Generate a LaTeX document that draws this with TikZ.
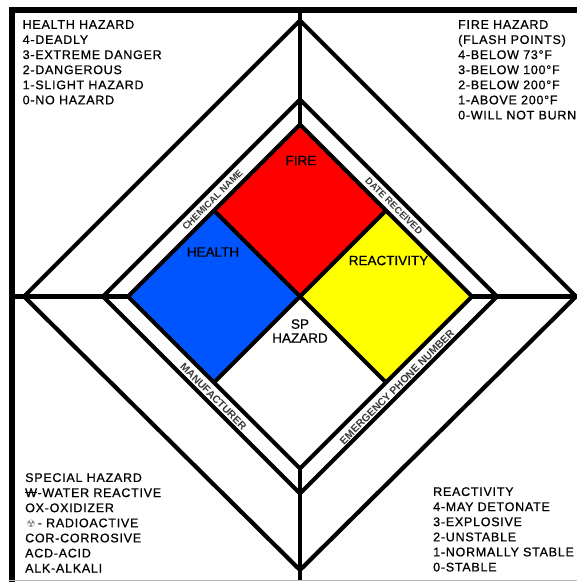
\documentclass[tikz,border=0pt]{standalone}
\usepackage{fontspec}
\setmainfont{Liberation Sans}
\newfontfamily\legendfont[LetterSpace=6, FakeBold=0.7]{Liberation Sans}
\newfontfamily\labelfont[FakeBold=0.7]{Liberation Sans}
\newfontfamily\symbolfont{DejaVu Sans}
\usetikzlibrary{positioning}

\definecolor{firered}{RGB}{255,0,0}
\definecolor{healthblue}{RGB}{0,85,255}
\definecolor{reactyellow}{RGB}{255,255,0}
\definecolor{bandgray}{RGB}{55,55,55}

\newcommand{\waterW}{\makebox[0pt][l]{\rule[0.32em]{0.95em}{0.09em}}W}

\tikzset{
    frameline/.style={line width=6pt, line join=miter},
    rimline/.style={line width=4.2pt, line join=miter},
    legend/.style={
        inner sep=0pt,
        anchor=north west,
        align=left,
        font=\legendfont\fontsize{12.5}{15.1}\selectfont
    },
    quadlabel/.style={inner sep=0pt, align=center, font=\labelfont\fontsize{13.5}{14}\selectfont},
    bandlabel/.style={inner sep=0pt, text=bandgray, font=\bfseries\fontsize{9.5}{10}\selectfont},
    bigbandlabel/.style={bandlabel, font=\bfseries\fontsize{10.5}{11}\selectfont}
}

\begin{document}
\begin{tikzpicture}[x=1pt, y=-1pt]
\useasboundingbox (0,0) rectangle (577,582);

% frame
\coordinate (frameBL) at (11.7,582);
\coordinate (frameTL) at (11.7,10.3);
\coordinate (frameTR) at (577,10.3);
\draw[frameline] (frameBL) -- (frameTL) -- (frameTR);
\draw[gray!55, line width=1pt] (8.7,580.5) -- (577,580.5);

% outer and middle diamonds
\coordinate (oT) at (300,20.5);  \coordinate (oR) at (576,296.5);
\coordinate (oB) at (300,570); \coordinate (oL) at (24,296.5);
\coordinate (mT) at (300,99.5);  \coordinate (mR) at (497,296.5);
\coordinate (mB) at (300,493.5); \coordinate (mL) at (103,296.5);
\draw[rimline] (oT) -- (oR) -- (oB) -- (oL) -- cycle;
\draw[rimline] (mT) -- (mR) -- (mB) -- (mL) -- cycle;

% coloured diamond
\coordinate (c)  at (300,296.5);
\coordinate (cT) at (300,124.5); \coordinate (cR) at (472,296.5);
\coordinate (cB) at (300,468.5); \coordinate (cL) at (128,296.5);
\coordinate (eTL) at (214,210.5); \coordinate (eTR) at (386,210.5);
\coordinate (eBL) at (214,382.5); \coordinate (eBR) at (386,382.5);
\fill[firered] (cT) -- (eTR) -- (c) -- (eTL) -- cycle;
\fill[healthblue] (eTL) -- (c) -- (eBL) -- (cL) -- cycle;
\fill[reactyellow] (eTR) -- (cR) -- (eBR) -- (c) -- cycle;
\fill[white] (c) -- (eBR) -- (cB) -- (eBL) -- cycle;
\draw[rimline] (cT) -- (cR) -- (cB) -- (cL) -- cycle;
\draw[rimline] (eTL) -- (eBR);
\draw[rimline] (eTR) -- (eBL);

% stubs to the frame
\coordinate (topStub) at (300,10.3);
\coordinate (leftStub) at (11.7,296.5);
\coordinate (rightStub) at (577,296.5);
\coordinate (bottomStub) at (300,580);
\draw[rimline] (topStub) -- (cT);
\draw[rimline] (leftStub) -- (cL);
\draw[rimline] (cR) -- (rightStub);
\draw[rimline] (cB) -- (bottomStub);

% keys in the corners
\node[legend] (healthkey) at (22.5,20) {HEALTH HAZARD\\4-DEADLY\\3-EXTREME DANGER\\2-DANGEROUS\\1-SLIGHT HAZARD\\0-NO HAZARD};
\node[legend] (firekey) at (458,20) {FIRE HAZARD\\(FLASH POINTS)\\4-BELOW 73°F\\3-BELOW 100°F\\2-BELOW 200°F\\1-ABOVE 200°F\\0-WILL NOT BURN};
\node[legend] (specialkey) at (25,473) {SPECIAL HAZARD\\\waterW-WATER REACTIVE\\OX-OXIDIZER\\\hspace{1.5pt}{\symbolfont\fontsize{10}{10}\selectfont\color{gray}☢}\,- RADIOACTIVE\\COR-CORROSIVE\\ACD-ACID\\ALK-ALKALI};
\node[legend] (reactkey) at (433,487) {REACTIVITY\\4-MAY DETONATE\\3-EXPLOSIVE\\2-UNSTABLE\\1-NORMALLY STABLE\\0-STABLE};

% quadrant labels
\node[quadlabel] (firelbl) at (301,160.5) {FIRE};
\node[quadlabel] (healthlbl) at (213,252) {HEALTH};
\node[quadlabel] (reactlbl) at (388.5,260.5) {REACTIVITY};
\node[quadlabel] (splbl) at (300,331) {SP\\HAZARD};

% band labels
\node[bandlabel, rotate=45] (chemlbl) at (212.5,200) {CHEMICAL NAME};
\node[bandlabel, rotate=-45] (datelbl) at (394,206) {DATE RECEIVED};
\node[bigbandlabel, rotate=-45] (mfrlbl) at (213.5,396.5) {MANUFACTURER};
\node[bigbandlabel, rotate=45] (phonelbl) at (397,387) {EMERGENCY PHONE NUMBER};
\end{tikzpicture}
\end{document}
